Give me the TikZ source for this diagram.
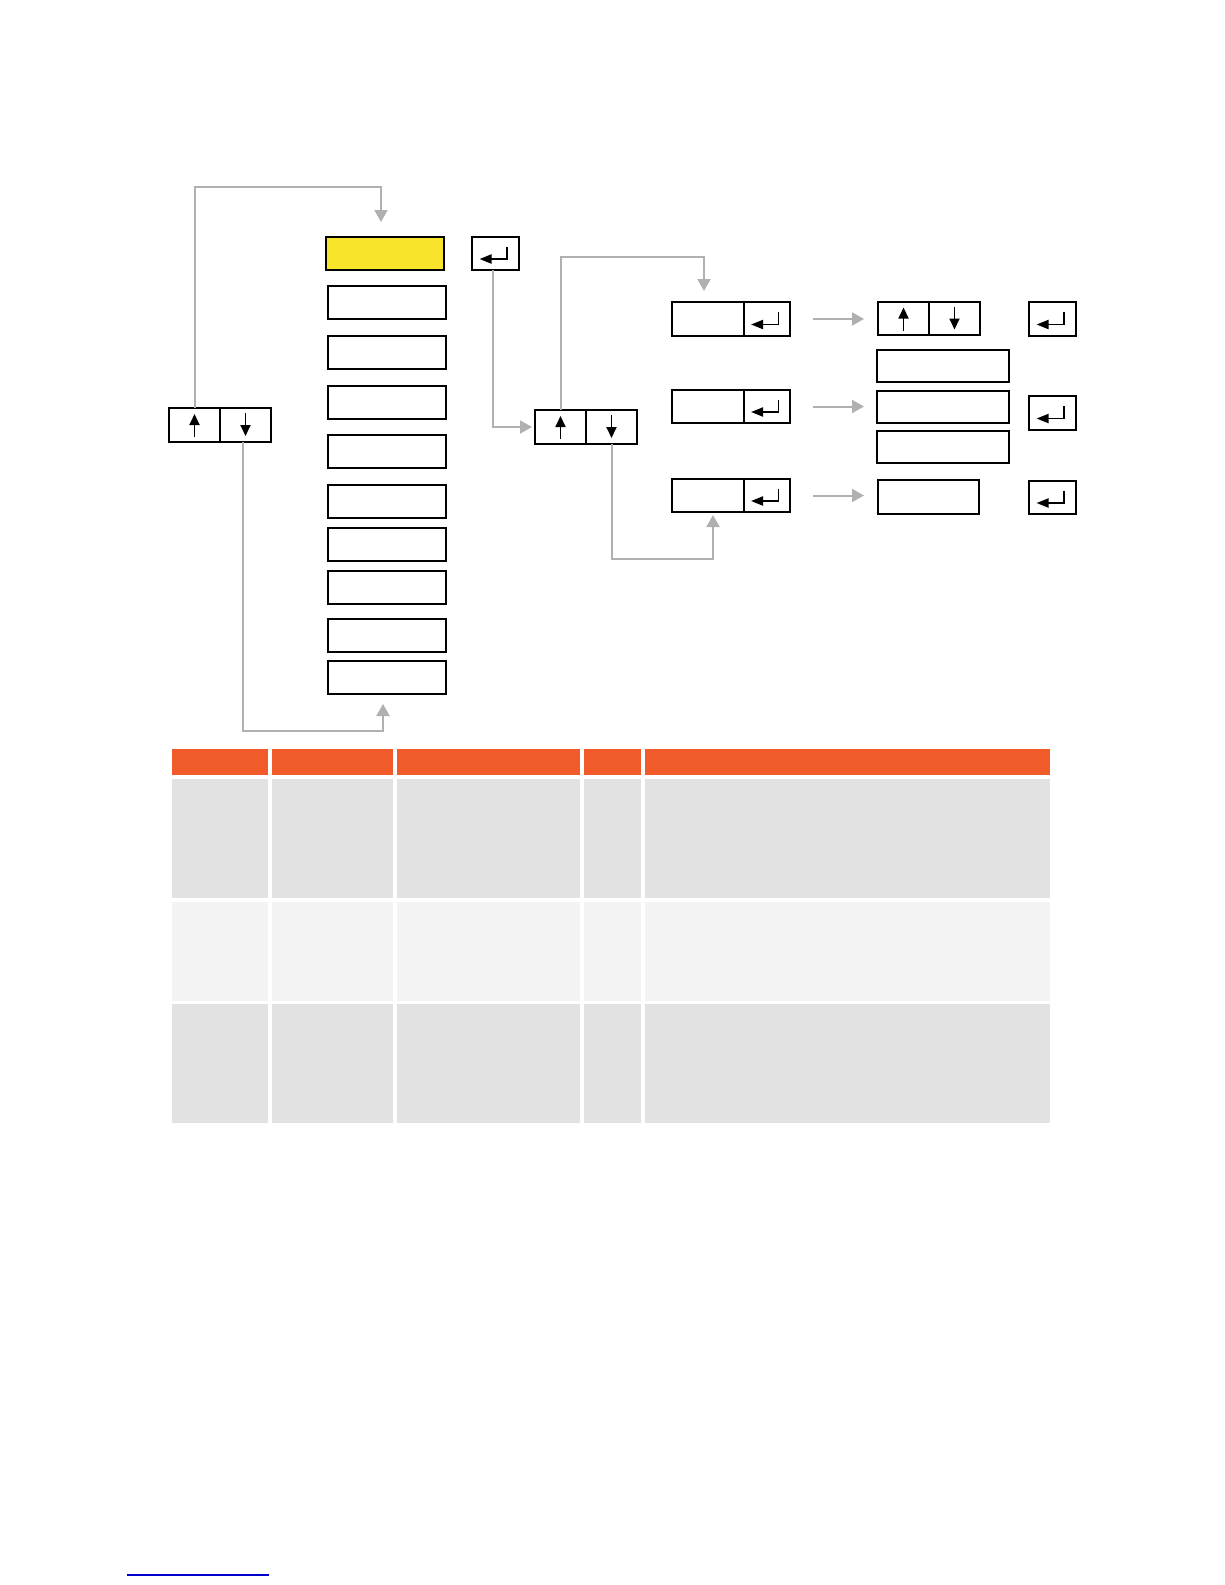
\documentclass[tikz,border=0pt]{standalone}
\usepackage{tikz}
\usetikzlibrary{positioning,arrows.meta}
\definecolor{menuyellow}{HTML}{F8E52B}
\definecolor{linegray}{HTML}{B0B0B0}
\definecolor{headorange}{HTML}{F15A29}
\definecolor{celldark}{HTML}{E2E2E2}
\definecolor{celllight}{HTML}{F3F3F3}
\definecolor{linkblue}{HTML}{0000CC}
\tikzset{
	mbox/.style 2 args={draw,line width=1pt,inner sep=0pt,outer sep=0pt,minimum width=#1,minimum height=#2},
	flow/.style={draw=linegray,line width=1pt,-{Triangle[length=6pt,width=6.5pt]},color=linegray},
	karrow/.style={line width=0.9pt,-{Triangle[length=5.5pt,width=5pt]}},
	earrow/.style={line width=0.9pt,-{Triangle[length=6pt,width=4.5pt]}}
}
\begin{document}
\begin{tikzpicture}[x=0.5pt,y=-0.5pt]
	\useasboundingbox (0,0) rectangle (1225,1585);

	% menu column
	\node [mbox={59pt}{16.5pt},fill=menuyellow] (m1) at (385,253.5) {};
	\foreach \i/\y in {2/302.5,3/352.5,4/402.5,5/451.5,6/501.5,7/544.5,8/587.5,9/635.5,10/677.5}
		\node [mbox={59pt}{16.5pt}] (m\i) at (387,\y) {};

	% up / down keys
	\node [mbox={25.5pt}{17pt}] (lu) at (194.5,425) {};
	\node [mbox={25.5pt}{17pt},right=0pt of lu] (ld) {};
	\node [mbox={25.5pt}{17pt}] (mu) at (560.5,427) {};
	\node [mbox={25.5pt}{17pt},right=0pt of mu] (md) {};
	\node [mbox={25.5pt}{16.5pt}] (ru) at (903.5,318.5) {};
	\node [mbox={25.5pt}{16.5pt},right=0pt of ru] (rd) {};

	% enter keys
	\node [mbox={23.5pt}{16.5pt}] (e1) at (495.5,253.5) {};
	\node [mbox={23.5pt}{17pt}] (e2) at (1052.5,319) {};
	\node [mbox={23.5pt}{17pt}] (e3) at (1052.5,413) {};
	\node [mbox={23.5pt}{16.5pt}] (e4) at (1052.5,497.5) {};

	% sub menu
	\node [mbox={36pt}{17pt}] (a) at (708,319) {};
	\node [mbox={23pt}{17pt},right=0pt of a] (ae) {};
	\node [mbox={36pt}{16.5pt}] (b) at (708,406.5) {};
	\node [mbox={23pt}{16.5pt},right=0pt of b] (be) {};
	\node [mbox={36pt}{16.5pt}] (c) at (708,495.5) {};
	\node [mbox={23pt}{16.5pt},right=0pt of c] (ce) {};

	% values
	\node [mbox={66pt}{16pt}] (v1) at (943,366) {};
	\node [mbox={66pt}{16pt}] (v2) at (943,407) {};
	\node [mbox={66pt}{16pt}] (v3) at (943,447) {};
	\node [mbox={50.5pt}{17pt}] (v4) at (928.5,497) {};

	% key symbols
	\foreach \n in {lu,mu,ru}
		\draw [karrow] ([yshift=-6pt]\n.center) -- ([yshift=5.5pt]\n.center);
	\foreach \n in {ld,md,rd}
		\draw [karrow] ([yshift=6pt]\n.center) -- ([yshift=-5.5pt]\n.center);
	\foreach \n in {e1,e2,e3,e4,ae,be,ce}
		\draw [earrow] ([xshift=5.75pt,yshift=3.5pt]\n.center) -- ([xshift=5.75pt,yshift=-2.75pt]\n.center) -- ([xshift=-8pt,yshift=-2.75pt]\n.center);

	% connectors
	\coordinate (m1in) at (381,222);
	\coordinate (m10in) at (383,704);
	\coordinate (ain) at (704,291);
	\coordinate (cin) at (713,515);
	\draw [flow] ([xshift=0.25pt]lu.north) -- ++(0,-221) -| (m1in);
	\draw [flow] ([xshift=-1.25pt]ld.south) -- ++(0,289) -| (m10in);
	\draw [flow,shorten >=1.5pt] ([xshift=-1.25pt]e1.south) |- (mu.west);
	\draw [flow] (mu.north) -- ++(0,-153) -| (ain);
	\draw [flow] (md.south) -- ++(0,115) -| (cin);
	\draw [flow,shorten <=11.5pt,shorten >=7pt] (ae.east) -- (ru.west |- ae.east);
	\draw [flow,shorten <=11.5pt,shorten >=6.5pt] (be.east) -- (v2.west |- be.east);
	\draw [flow,shorten <=11.5pt,shorten >=7pt] (ce.east) -- (v4.west |- ce.east);

	% table
	\foreach \xa/\xb in {172/268,272/393,397/580,584/641,645/1050}{
		\fill [headorange] (\xa,749) rectangle (\xb,775);
		\fill [celldark] (\xa,779) rectangle (\xb,898);
		\fill [celllight] (\xa,902) rectangle (\xb,1001);
		\fill [celldark] (\xa,1004) rectangle (\xb,1123);
	}

	\draw [linkblue,line width=0.75pt] (127,1575) -- (269,1575);
\end{tikzpicture}
\end{document}
